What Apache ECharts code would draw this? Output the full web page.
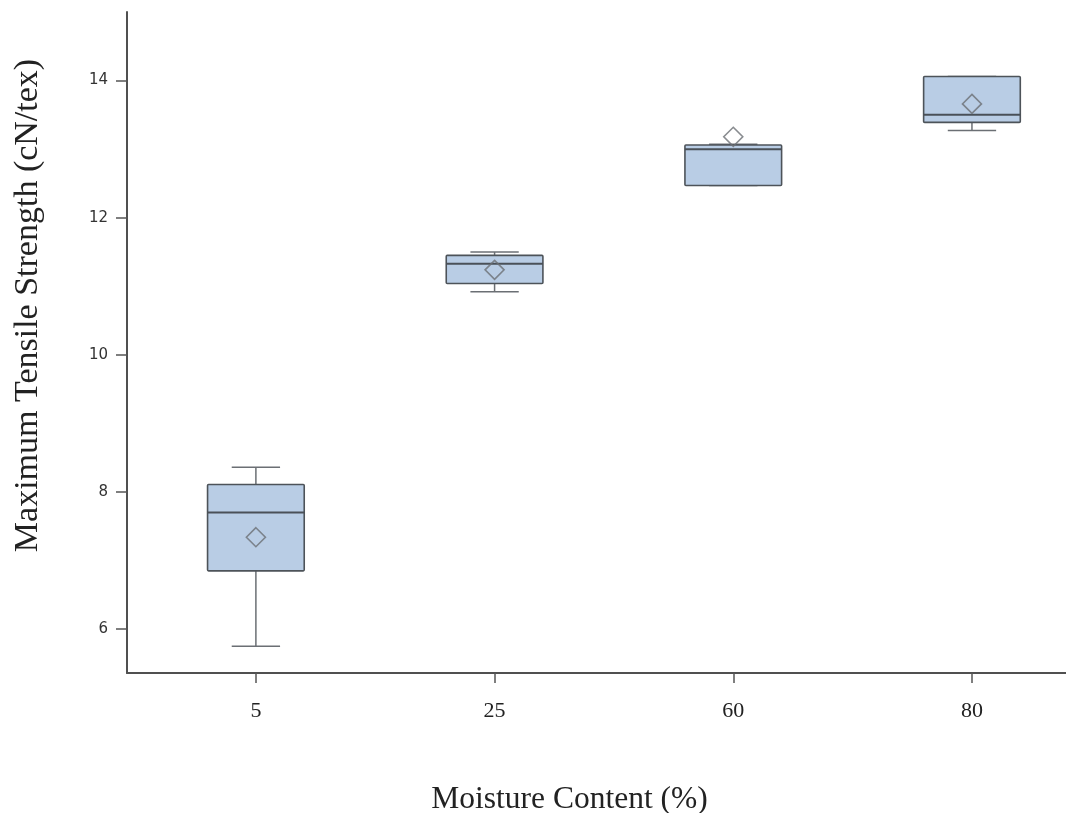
<!DOCTYPE html>
<html>
<head>
<meta charset="utf-8">
<script src="https://cdn.jsdelivr.net/npm/echarts@6/dist/echarts.min.js"></script>
<style>
  html, body { margin: 0; padding: 0; background: #fff; }
  #chart { width: 1066px; height: 813px; }
</style>
</head>
<body>
<div id="chart"></div>
<script>
// moisture content groups (%)
const categories = ['5', '25', '60', '80'];
// box statistics, cN/tex
const whiskerLow  = [5.75, 10.92, 12.47, 13.27];
const q1          = [6.85, 11.04, 12.47, 13.39];
const median      = [7.70, 11.33, 13.00, 13.50];
const q3          = [8.11, 11.45, 13.06, 14.06];
const whiskerHigh = [8.36, 11.50, 13.07, 14.06];
const means       = [7.34, 11.24, 13.18, 13.66];
const yTicks = [6, 8, 10, 12, 14];

const boxData = categories.map((c, i) => [i, whiskerLow[i], q1[i], median[i], q3[i], whiskerHigh[i]]);
const meanData = categories.map((c, i) => [i, means[i]]);

const chart = echarts.init(document.getElementById('chart'));

function renderBox(params, api) {
    const x = api.value(0);
    const lo = api.coord([x, api.value(1)]);
    const b1 = api.coord([x, api.value(2)]);
    const md = api.coord([x, api.value(3)]);
    const b3 = api.coord([x, api.value(4)]);
    const hi = api.coord([x, api.value(5)]);
    const bw = api.size([0.405, 0])[0];
    const cw = bw / 2;
    const cx = lo[0];
    const whisker = { stroke: '#6b6f74', lineWidth: 1.5 };
    return {
        type: 'group',
        children: [
            { type: 'line', shape: { x1: cx, y1: lo[1], x2: cx, y2: b1[1] }, style: whisker },
            { type: 'line', shape: { x1: cx, y1: b3[1], x2: cx, y2: hi[1] }, style: whisker },
            { type: 'line', shape: { x1: cx - cw / 2, y1: lo[1], x2: cx + cw / 2, y2: lo[1] }, style: whisker },
            { type: 'line', shape: { x1: cx - cw / 2, y1: hi[1], x2: cx + cw / 2, y2: hi[1] }, style: whisker },
            {
                type: 'rect',
                shape: { x: cx - bw / 2, y: b3[1], width: bw, height: b1[1] - b3[1], r: 1 },
                style: { fill: '#b9cde5', stroke: '#4d5359', lineWidth: 1.6 }
            },
            { type: 'line', shape: { x1: cx - bw / 2, y1: md[1], x2: cx + bw / 2, y2: md[1] }, style: { stroke: '#4a5058', lineWidth: 2 } }
        ]
    };
}

const option = {
    animation: false,
    backgroundColor: '#fff',
    grid: { left: 127, right: 0, top: 12, bottom: 140, outerBoundsMode: 'none', containLabel: false },
    xAxis: {
        type: 'value',
        min: -0.54,
        max: 3.394,
        name: 'Moisture Content (%)',
        nameLocation: 'middle',
        nameGap: 111,
        nameTextStyle: { fontFamily: 'Liberation Serif', fontSize: 31.5, color: '#222', padding: [0, 54, 0, 0] },
        axisLine: { show: true, onZero: false, lineStyle: { color: '#505050', width: 2 } },
        axisTick: { show: true, length: 10, customValues: [0, 1, 2, 3], lineStyle: { color: '#555', width: 1.5 } },
        axisLabel: {
            customValues: [0, 1, 2, 3],
            formatter: v => categories[v],
            margin: 27,
            fontFamily: 'Liberation Serif',
            fontSize: 22,
            color: '#222'
        },
        splitLine: { show: false }
    },
    yAxis: {
        type: 'value',
        min: 5.36,
        max: 15,
        name: 'Maximum Tensile Strength (cN/tex)',
        nameLocation: 'middle',
        nameGap: 82,
        nameTextStyle: { fontFamily: 'Liberation Serif', fontSize: 34, color: '#222', padding: [0, 0, 0, 74] },
        axisLine: { show: true, onZero: false, lineStyle: { color: '#505050', width: 2 } },
        axisTick: { show: true, length: 11, customValues: yTicks, lineStyle: { color: '#555', width: 1.5 } },
        axisLabel: {
            customValues: yTicks,
            margin: 19,
            fontFamily: 'DejaVu Sans',
            fontSize: 15,
            color: '#333'
        },
        splitLine: { show: false }
    },
    series: [
        {
            type: 'custom',
            renderItem: renderBox,
            data: boxData,
            encode: { x: 0, y: [1, 2, 3, 4, 5] },
            z: 2
        },
        {
            type: 'scatter',
            data: meanData,
            symbol: 'diamond',
            symbolSize: [19, 19],
            itemStyle: { color: 'rgba(255,255,255,0)', borderColor: '#6b6f74', borderWidth: 1.6 },
            z: 3
        }
    ]
};

chart.setOption(option);
</script>
</body>
</html>
